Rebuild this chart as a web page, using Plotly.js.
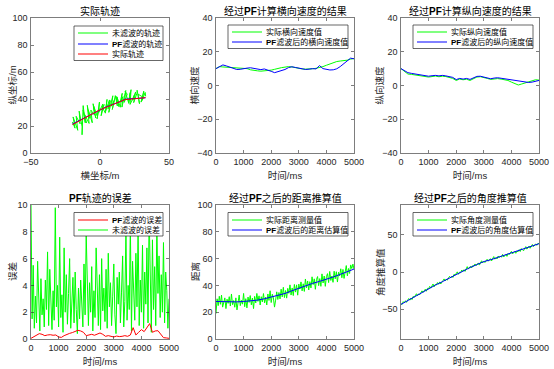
<!DOCTYPE html>
<html><head><meta charset="utf-8">
<script src="https://cdn.plot.ly/plotly-3.0.1.min.js"></script>
<style>html,body{margin:0;padding:0;background:#fff;overflow:hidden}#chart{width:554px;height:369px}</style>
</head><body><div id="chart"></div>
<script>
// ---------- DATA ----------
// Subplot 1: trajectory
const trajNames = ['未滤波的轨迹', 'PF滤波的轨迹', '实际轨迹'];
const rawTrajX = [-20.0,-18.1,-19.5,-16.5,-18.3,-16.1,-17.3,-14.4,-15.1,-12.9,-13.0,-12.2,-10.7,-12.2,-9.9,-11.1,-7.9,-9.2,-7.6,-8.5,
  -5.6,-6.6,-4.0,-5.0,-3.1,-4.7,-2.1,-0.8,-2.1,-0.4,-0.9,2.1,0.8,3.0,1.6,3.9,5.1,4.0,6.9,5.8,
  7.4,6.4,9.3,8.3,10.3,8.9,11.1,12.6,11.5,13.7,12.3,14.7,16.1,14.6,16.6,15.9,18.7,17.6,19.7,18.2,
  20.9,21.9,20.7,22.5,21.8,25.0,23.7,25.8,24.4,26.8,28.0,26.9,28.6,27.6,30.6,29.8,31.7,30.6,32.7,33.1];
const rawTrajY = [23.0,18.4,26.7,18.1,23.5,16.8,27.2,21.6,31.0,19.3,13.5,35.1,22.4,31.8,22.2,28.5,21.9,35.3,25.7,32.0,
  22.4,31.8,28.1,36.5,25.9,35.2,27.6,33.0,25.3,37.7,30.0,36.3,27.6,35.9,34.2,29.5,39.7,31.0,39.3,32.5,
  38.8,30.1,42.4,34.7,39.0,32.2,42.5,34.8,42.1,34.3,41.6,33.9,44.2,37.5,41.8,34.0,46.3,37.5,43.6,45.7,
  36.7,44.8,37.9,46.9,36.0,43.1,39.1,45.2,37.3,44.3,38.4,46.5,36.5,43.6,41.7,37.7,45.8,38.9,44.9,42.0];
const pfTrajX = [-20,-16,-12,-8,-4,0,4,8,12,16,18,20,24,28,33];
const pfTrajY = [21.5,23.5,25.2,27.8,29.7,31.8,33.9,35.4,37.1,38.6,39.8,40.1,40.3,40.5,40.9];
const realTrajX = [-20,-10,0,10,18,25,33];
const realTrajY = [21.0,26.5,32.0,36.2,39.5,40.2,41.0];

// Subplot 2: lateral velocity (time step 125 ms)
const latNames = ['实际横向速度值', 'PF滤波后的横向速度值'];
const velStepMs = 125;
const latReal = [10.0,11.2,11.0,10.8,10.9,10.5,10.3,10.1,10.2,10.0,9.3,8.8,8.7,8.5,8.6,8.8,9.1,9.6,10.2,10.6,
  10.9,11.2,11.0,10.5,10.0,9.8,9.7,9.7,9.9,10.2,10.6,11.2,12.0,12.8,13.6,14.2,14.5,14.6,15.0,15.6,16.0];
const latPF = [10.0,11.0,12.2,11.6,11.0,10.4,9.5,9.6,10.1,10.3,10.5,10.2,9.6,9.4,9.8,8.9,8.4,7.6,8.1,8.7,
  9.5,10.6,11.1,10.7,10.2,9.8,9.5,9.7,10.0,9.8,11.8,10.0,9.4,9.2,9.3,9.9,11.2,12.8,14.6,16.2,15.8];

// Subplot 3: longitudinal velocity (time step 125 ms)
const lonNames = ['实际纵向速度值', 'PF滤波后的纵向速度值'];
const lonReal = [10.0,8.5,6.8,6.6,6.3,6.0,5.7,5.2,5.0,5.3,5.6,5.2,5.5,5.3,4.6,4.2,3.0,3.8,3.4,3.7,
  3.0,4.2,5.0,5.2,4.5,4.2,3.6,3.9,4.1,3.8,3.4,3.0,2.0,1.0,0.3,0.9,1.6,2.0,2.6,3.4,3.2];
const lonPF = [10.0,9.0,7.6,7.2,6.8,6.5,6.2,5.8,5.5,5.8,6.0,5.7,6.0,5.7,5.2,4.8,3.5,4.2,3.8,4.2,
  3.6,4.6,5.4,5.5,4.9,4.5,4.0,4.4,4.6,4.3,4.0,3.6,3.2,3.0,2.9,2.6,2.2,1.8,2.0,2.6,3.0];

// Subplot 4: error
const errNames = ['PF滤波的误差', '未滤波的误差'];
const rawErrStepMs = 40;
const rawErr = [10.0,1.5,5.5,0.8,3.2,1.2,5.8,2.0,0.6,4.5,
  1.8,3.0,0.9,4.4,2.2,6.5,1.0,5.2,2.8,0.7,
  3.6,1.4,9.8,2.4,4.0,0.9,7.6,1.6,3.3,0.5,
  6.8,2.0,4.8,1.1,3.4,6.0,0.8,2.6,4.6,1.2,
  5.0,2.2,0.4,3.8,1.5,4.4,2.7,0.9,5.6,1.8,
  7.8,3.0,1.0,4.2,2.0,5.4,0.6,3.6,1.6,6.8,
  2.5,1.0,4.8,0.7,6.0,2.1,3.8,1.3,5.2,0.8,
  6.4,2.4,4.2,1.0,3.2,5.6,1.8,0.4,4.6,2.6,
  5.0,1.2,3.5,6.2,0.9,2.8,8.0,1.4,4.0,2.2,
  8.6,0.6,5.8,3.0,1.4,6.4,2.4,8.2,1.0,4.4,
  2.0,7.0,0.8,5.0,2.6,6.8,1.2,9.4,3.0,0.5,
  7.4,2.2,5.4,1.0,8.6,3.4,6.2,1.6,4.8,2.0,
  7.2,1.2,5.0,3.6,0.8,3.0];
const pfErrStepMs = 100;
const pfErr = [0.05,0.15,0.3,0.4,0.35,0.25,0.3,0.32,0.28,0.3,
  0.15,0.12,0.25,0.35,0.42,0.48,0.55,0.65,0.6,0.5,
  0.25,0.3,0.35,0.28,0.38,0.45,0.35,0.2,0.25,0.2,
  0.15,0.22,0.18,0.2,0.25,0.2,0.3,0.85,0.3,0.5,
  0.7,0.55,0.9,1.15,0.5,0.6,0.62,0.4,0.1,0.08,0.05];

// Subplot 5: distance
const distNames = ['实际距离测量值', 'PF滤波后的距离估算值'];
const distRawStepMs = 40;
const distRaw = [19.0,30.0,24.9,31.9,25.9,32.8,23.8,28.8,30.7,22.7,
  29.7,26.6,31.6,24.6,33.6,25.6,28.7,23.7,30.7,21.7,
  29.8,32.8,24.9,28.9,26.0,34.0,24.1,30.1,23.2,31.3,
  27.3,32.4,25.5,30.6,22.7,31.8,26.9,34.0,28.1,32.2,
  25.4,31.6,27.7,33.9,27.0,31.2,25.4,33.6,28.8,36.0,
  27.2,33.4,30.6,23.8,29.0,35.2,29.5,34.7,29.9,37.2,
  31.4,38.6,30.9,36.2,30.5,37.8,34.1,40.4,32.8,38.1,
  32.4,40.7,35.0,40.4,32.7,41.0,37.3,42.6,35.9,41.2,
  35.5,44.8,38.1,43.3,36.6,42.8,38.1,46.4,40.6,44.9,
  37.1,44.3,46.6,39.8,45.1,39.3,48.6,41.8,47.0,39.3,
  46.5,48.8,42.1,50.4,43.7,47.0,42.3,50.6,44.9,50.2,
  42.5,49.8,47.1,52.4,45.7,51.9,45.2,51.5,54.8,47.1,
  52.6,48.9,55.3,52.6,55.9,52.2];
const distPFStepMs = 250;
const distPF = [28.0,27.8,27.6,27.7,28.0,28.4,29.0,30.0,31.2,32.5,34.0,36.0,38.0,39.8,41.5,43.0,44.5,46.3,48.2,50.0,52.2];

// Subplot 6: angle
const angNames = ['实际角度测量值', 'PF滤波后的角度估算值'];
const angRawStepMs = 40;
const angRaw = [-42.5,-43.7,-39.8,-41.5,-38.6,-40.8,-38.0,-35.6,-37.8,-34.9,
  -37.1,-32.8,-33.9,-31.6,-29.2,-31.8,-29.4,-30.5,-27.2,-25.3,
  -27.4,-25.0,-23.1,-25.8,-21.9,-22.5,-19.3,-21.6,-19.3,-16.1,
  -19.9,-16.7,-17.5,-14.2,-16.5,-13.3,-16.1,-12.9,-11.6,-9.3,
  -12.0,-9.7,-10.9,-7.6,-5.8,-8.0,-5.7,-7.4,-3.1,-4.3,
  -2.0,0.2,-3.1,-0.3,-1.1,2.6,0.8,3.0,0.8,5.0,
  7.2,3.9,6.1,7.8,5.4,8.6,7.7,10.8,8.4,10.6,
  12.2,9.3,13.0,15.1,12.2,14.3,12.7,15.7,17.1,14.5,
  16.5,17.9,14.8,18.3,20.7,17.2,19.1,17.5,21.5,19.4,
  21.3,19.8,23.7,20.1,22.6,23.5,21.0,24.9,23.3,26.3,
  27.7,24.2,26.2,27.6,25.1,28.1,27.1,30.0,27.5,31.5,
  30.0,28.5,31.5,34.1,30.7,32.8,34.8,31.9,35.0,37.0,
  34.1,36.2,37.8,35.8,38.4,38.0];
const angPFStepMs = 250;
const angPF = [-43.5,-38.3,-33.0,-27.5,-22.0,-17.5,-13.0,-8.0,-3.0,1.5,6.0,10.0,14.0,16.5,19.5,22.0,25.0,28.0,31.0,34.5,38.0];

const titles = ['实际轨迹', '经过<b>PF</b>计算横向速度的结果', '经过<b>PF</b>计算纵向速度的结果',
  '<b>PF</b>轨迹的误差', '经过<b>PF</b>之后的距离推算值', '经过<b>PF</b>之后的角度推算值'];
const xTitles = ['横坐标/m', '时间/ms', '时间/ms', '时间/ms', '时间/ms', '时间/ms'];
const yTitles = ['纵坐标/m', '横向速度', '纵向速度', '误差', '距离', '角度推算值'];

// ---------- LAYOUT ----------
const W = 554, H = 369;
const px = v => v / W, py = v => 1 - v / H;
const FONT = '"Liberation Sans", Arial, "Noto Sans CJK SC", sans-serif';
const AXC = '#262626';
const GREEN = '#00ff00', BLUE = '#0000ff', RED = '#ff0000';
const colsPx = [[31, 169], [216, 354], [401, 539]];
const rowsPx = [[18, 153], [205, 339]];
const yTitleOffsetPx = [19, 22, 22, 19, 21, 21];
const boldPF = s => s.replace(/^PF/, '<b>PF</b>');

function mkAxis(dom, range, dtick, tick0, title) {
  const a = {domain: dom, range: range, dtick: dtick, tick0: tick0, tickmode: 'linear',
    ticks: 'inside', ticklen: 3, tickwidth: 0.6, tickcolor: AXC,
    showline: true, linecolor: AXC, linewidth: 0.6, mirror: 'ticks',
    showgrid: false, zeroline: false, fixedrange: true,
    ticklabelstandoff: 1,
    tickfont: {family: FONT, size: 9, color: AXC}};
  if (title) a.title = {text: title, font: {family: FONT, size: 9.5, color: AXC}, standoff: 5};
  return a;
}

const layout = {width: W, height: H, margin: {l: 0, r: 0, t: 0, b: 0},
  paper_bgcolor: '#fff', plot_bgcolor: '#fff', showlegend: false,
  shapes: [], annotations: []};

const axSpecs = [
  {x: [[-50, 50], 50, -50], y: [[0, 100], 20, 0]},
  {x: [[0, 5000], 1000, 0], y: [[-40, 40], 20, -40]},
  {x: [[0, 5000], 1000, 0], y: [[-40, 40], 20, -40]},
  {x: [[0, 5000], 1000, 0], y: [[0, 10], 2, 0]},
  {x: [[0, 5000], 1000, 0], y: [[0, 100], 20, 0]},
  {x: [[0, 5000], 1000, 0], y: [[-90, 90], 50, -50]}
];
axSpecs.forEach((s, i) => {
  const c = colsPx[i % 3], r = rowsPx[Math.floor(i / 3)];
  const xd = [px(c[0]), px(c[1])], yd = [py(r[1]), py(r[0])];
  const n = i === 0 ? '' : String(i + 1);
  const xa = mkAxis(xd, s.x[0], s.x[1], s.x[2], xTitles[i]);
  const ya = mkAxis(yd, s.y[0], s.y[1], s.y[2], null);
  xa.anchor = 'y' + n; ya.anchor = 'x' + n;
  layout['xaxis' + n] = xa; layout['yaxis' + n] = ya;
  // subplot title
  layout.annotations.push({text: titles[i], xref: 'paper', yref: 'paper',
    x: (xd[0] + xd[1]) / 2, y: py(r[0] - 7), xanchor: 'center', yanchor: 'middle',
    showarrow: false, font: {family: FONT, size: 10, color: '#000'}});
  // y-axis title (rotated)
  layout.annotations.push({text: yTitles[i], xref: 'paper', yref: 'paper',
    x: px(c[0] - yTitleOffsetPx[i]), y: (yd[0] + yd[1]) / 2, xanchor: 'center', yanchor: 'middle',
    textangle: -90, showarrow: false, font: {family: FONT, size: 9.5, color: AXC}});
});

function addLegend(boxX0, boxX1, boxY0, entries) {
  const spacing = entries.length === 3 ? 10.5 : 10;
  const boxY1 = boxY0 + 7 + spacing * (entries.length - 1) + 6.5;
  layout.shapes.push({type: 'rect', xref: 'paper', yref: 'paper',
    x0: px(boxX0), x1: px(boxX1), y0: py(boxY0), y1: py(boxY1),
    line: {color: AXC, width: 0.7}, fillcolor: '#ffffff', layer: 'above'});
  entries.forEach((e, k) => {
    const yy = Math.round(boxY0 + 7 + spacing * k);
    layout.shapes.push({type: 'rect', xref: 'paper', yref: 'paper',
      x0: px(boxX0 + 4), x1: px(boxX0 + 34), y0: py(yy + 0.5), y1: py(yy - 0.5),
      line: {width: 0}, fillcolor: e[1], opacity: 1, layer: 'above'});
    layout.annotations.push({text: boldPF(e[0]), xref: 'paper', yref: 'paper',
      x: px(boxX0 + 35.5), y: py(yy), xanchor: 'left', yanchor: 'middle',
      showarrow: false, font: {family: FONT, size: 8, color: '#000'}});
  });
}
addLegend(74, 163, 26, [[trajNames[0], GREEN], [trajNames[1], BLUE], [trajNames[2], RED]]);
addLegend(228, 348, 25, [[latNames[0], GREEN], [latNames[1], BLUE]]);
addLegend(413, 533, 25, [[lonNames[0], GREEN], [lonNames[1], BLUE]]);
addLegend(74, 163, 212.5, [[errNames[0], RED], [errNames[1], GREEN]]);
addLegend(228, 348, 212.5, [[distNames[0], GREEN], [distNames[1], BLUE]]);
addLegend(413, 533, 212.5, [[angNames[0], GREEN], [angNames[1], BLUE]]);

const ln = (c) => ({color: c, width: 1});
const traces = [
  {x: rawTrajX, y: rawTrajY, name: trajNames[0], mode: 'lines', line: ln(GREEN), xaxis: 'x', yaxis: 'y'},
  {x: pfTrajX, y: pfTrajY, name: trajNames[1], mode: 'lines', line: ln(BLUE), xaxis: 'x', yaxis: 'y'},
  {x: realTrajX, y: realTrajY, name: trajNames[2], mode: 'lines', line: ln(RED), xaxis: 'x', yaxis: 'y'},

  {y: latReal, x0: 0, dx: velStepMs, name: latNames[0], mode: 'lines', line: ln(GREEN), xaxis: 'x2', yaxis: 'y2'},
  {y: latPF, x0: 0, dx: velStepMs, name: latNames[1], mode: 'lines', line: ln(BLUE), xaxis: 'x2', yaxis: 'y2'},

  {y: lonReal, x0: 0, dx: velStepMs, name: lonNames[0], mode: 'lines', line: ln(GREEN), xaxis: 'x3', yaxis: 'y3'},
  {y: lonPF, x0: 0, dx: velStepMs, name: lonNames[1], mode: 'lines', line: ln(BLUE), xaxis: 'x3', yaxis: 'y3'},

  {y: rawErr, x0: 0, dx: rawErrStepMs, name: errNames[1], mode: 'lines', line: ln(GREEN), xaxis: 'x4', yaxis: 'y4'},
  {y: pfErr, x0: 0, dx: pfErrStepMs, name: errNames[0], mode: 'lines', line: ln(RED), xaxis: 'x4', yaxis: 'y4'},

  {y: distRaw, x0: 0, dx: distRawStepMs, name: distNames[0], mode: 'lines', line: ln(GREEN), xaxis: 'x5', yaxis: 'y5'},
  {y: distPF, x0: 0, dx: distPFStepMs, name: distNames[1], mode: 'lines', line: ln(BLUE), xaxis: 'x5', yaxis: 'y5'},

  {y: angRaw, x0: 0, dx: angRawStepMs, name: angNames[0], mode: 'lines', line: ln(GREEN), xaxis: 'x6', yaxis: 'y6'},
  {y: angPF, x0: 0, dx: angPFStepMs, name: angNames[1], mode: 'lines', line: ln(BLUE), xaxis: 'x6', yaxis: 'y6'}
];

Plotly.newPlot('chart', traces, layout, {staticPlot: true, displayModeBar: false});
</script></body></html>
